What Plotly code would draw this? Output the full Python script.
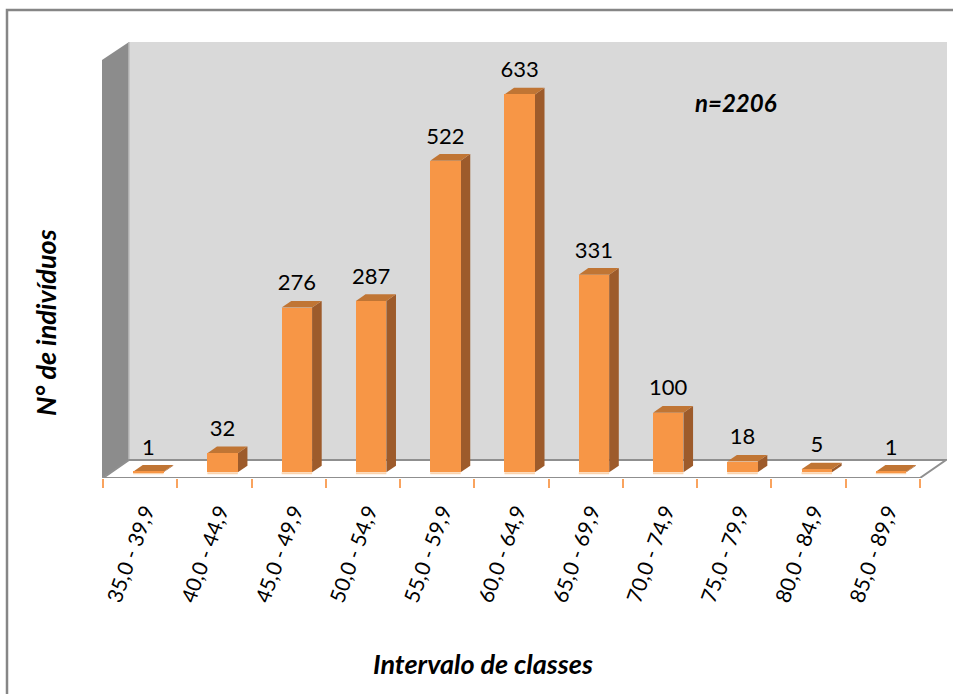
import numpy as np
import plotly.graph_objects as go

# ---- data -------------------------------------------------------------
categories = ["35,0 - 39,9", "40,0 - 44,9", "45,0 - 49,9", "50,0 - 54,9",
              "55,0 - 59,9", "60,0 - 64,9", "65,0 - 69,9", "70,0 - 74,9",
              "75,0 - 79,9", "80,0 - 84,9", "85,0 - 89,9"]
counts = [1, 32, 276, 287, 522, 633, 331, 100, 18, 5, 1]
sample_note = "n=2206"
x_title = "Intervalo de classes"
y_title = "N° de indivíduos"
axis_max = 700

# ---- geometry (pixels) ------------------------------------------------
W, H = 953, 694
PLOT_L, PLOT_R, PLOT_T, PLOT_B = 102, 947, 41, 478
AXIS_X0 = 103                 # pixel of first category boundary
PX_PER_CAT = 74.27
PX_PER_UNIT = 0.597
DEPTH_X_PX, DEPTH_Y_PX = 26, 18
LABEL_GAP_PX = 5

DXu = DEPTH_X_PX / PX_PER_CAT     # full floor depth in category units
DYu = DEPTH_Y_PX / PX_PER_UNIT    # full floor depth in value units
BAR_W = 0.41
Z0 = 0.315                        # depth fraction of the bar front faces
ZD = 0.37                         # bar depth as fraction of floor depth

x_lo = -0.5 - (AXIS_X0 - PLOT_L) / PX_PER_CAT
x_hi = -0.5 + (PLOT_R - AXIS_X0) / PX_PER_CAT
y_hi = (PLOT_B - PLOT_T) / PX_PER_UNIT


def px_paper(px, py):
    return (px - PLOT_L) / (PLOT_R - PLOT_L), (PLOT_B - py) / (PLOT_B - PLOT_T)


# ---- colours ----------------------------------------------------------
FRONT = "#f79646"
SIDE = "#9d5b2b"
TOP = "#c07534"
BOTTOM = "#fbd3ad"
BACK_WALL = "#d9d9d9"
SIDE_WALL = "#8c8c8c"
EDGE = "#8f8f8f"
TICK = "#f9a35e"
FONT = "Lato"

idx = np.arange(len(categories))
vals = np.array(counts, dtype=float)
base = Z0 * DYu
dxb = ZD * DXu
dyb = ZD * DYu
left = idx + Z0 * DXu - BAR_W / 2
right = left + BAR_W


def poly(pts):
    return "M " + " L ".join(f"{x:.5f},{y:.5f}" for x, y in pts) + " Z"


shapes = []
# back wall
shapes.append(dict(type="path", xref="x", yref="y", layer="below",
                   path=poly([(-0.5 + DXu, DYu), (x_hi, DYu),
                              (x_hi, DYu + axis_max), (-0.5 + DXu, DYu + axis_max)]),
                   fillcolor=BACK_WALL, line=dict(width=0)))
# left side wall
shapes.append(dict(type="path", xref="x", yref="y", layer="below",
                   path=poly([(x_lo, 0), (-0.5 + DXu, DYu),
                              (-0.5 + DXu, DYu + axis_max), (x_lo, axis_max)]),
                   fillcolor=SIDE_WALL, line=dict(width=0)))
shapes.append(dict(type="line", xref="x", yref="y", layer="below",
                   x0=-0.5 + DXu, x1=-0.5 + DXu, y0=DYu, y1=DYu + axis_max,
                   line=dict(color="#bdbdbd", width=1.5)))
# floor
shapes.append(dict(type="path", xref="x", yref="y", layer="below",
                   path=poly([(-0.5, 0), (10.5, 0), (10.5 + DXu, DYu), (-0.5 + DXu, DYu)]),
                   fillcolor="white", line=dict(color=EDGE, width=2)))
shapes.append(dict(type="line", xref="x", yref="y", layer="below",
                   x0=-0.5, x1=10.5, y0=-1.5, y1=-1.5,
                   line=dict(color=TICK, width=2)))

# bar side and top faces
for L, R, v in zip(left, right, vals):
    top = base + v
    shapes.append(dict(type="path", xref="x", yref="y", layer="below",
                       path=poly([(R, base), (R + dxb, base + dyb),
                                  (R + dxb, top + dyb), (R, top)]),
                       fillcolor=SIDE, line=dict(width=0)))
    shapes.append(dict(type="path", xref="x", yref="y", layer="below",
                       path=poly([(L, top), (R, top), (R + dxb, top + dyb), (L + dxb, top + dyb)]),
                       fillcolor=TOP, line=dict(width=0)))
    shapes.append(dict(type="line", xref="x", yref="y", layer="below",
                       x0=L, x1=R, y0=base - 1.5, y1=base - 1.5,
                       line=dict(color=BOTTOM, width=2)))

# outer chart frame
fx0, fy0 = px_paper(7, 10)
fx1, fy1 = px_paper(962, 704)
shapes.append(dict(type="rect", xref="paper", yref="paper",
                   x0=fx0, y0=fy1, x1=fx1, y1=fy0,
                   line=dict(color="#868686", width=2.5)))

fig = go.Figure()
fig.add_trace(go.Bar(
    x=idx, y=vals, base=base, width=BAR_W, offset=Z0 * DXu - BAR_W / 2,
    marker=dict(color=FRONT, line=dict(width=0)), hoverinfo="skip",
    showlegend=False,
))
fig.add_trace(go.Scatter(
    x=idx + Z0 * DXu, y=base + vals + dyb + LABEL_GAP_PX / PX_PER_UNIT, mode="text",
    text=[str(c) for c in counts], textposition="top center",
    textfont=dict(family=FONT, size=22, color="black"),
    cliponaxis=False, showlegend=False, hoverinfo="skip",
))

title_font = dict(family=FONT, size=27, color="black", weight="bold", style="italic")
annotations = []
ax, ay = px_paper(45, 322)
annotations.append(dict(xref="paper", yref="paper", x=ax, y=ay, text=y_title,
                        textangle=-90, showarrow=False,
                        xanchor="center", yanchor="middle", font=title_font))
ax, ay = px_paper(483, 663)
annotations.append(dict(xref="paper", yref="paper", x=ax, y=ay, text=x_title,
                        showarrow=False, xanchor="center", yanchor="middle",
                        font=title_font))
ax, ay = px_paper(736, 102)
annotations.append(dict(xref="paper", yref="paper", x=ax, y=ay, text=sample_note,
                        showarrow=False, xanchor="center", yanchor="middle",
                        font=dict(title_font, size=24)))

fig.update_layout(
    width=W, height=H,
    margin=dict(l=PLOT_L, r=W - PLOT_R, t=PLOT_T, b=H - PLOT_B, autoexpand=False),
    paper_bgcolor="white", plot_bgcolor="white",
    shapes=shapes, annotations=annotations,
    bargap=0,
    xaxis=dict(range=[x_lo, x_hi], showgrid=False, zeroline=False, showline=False,
               tickmode="array", tickvals=idx, ticktext=categories,
               tickangle=-70, ticks="", ticklabelstandoff=16, ticklabelshift=5,
               tickfont=dict(family=FONT, size=21, color="black"),
               minor=dict(tickmode="linear", tick0=-0.5, dtick=1, ticks="outside",
                          ticklen=9, tickwidth=2, tickcolor=TICK, showgrid=False),
               fixedrange=True),
    yaxis=dict(range=[0, y_hi], showgrid=False, zeroline=False, showline=False,
               showticklabels=False, ticks="", fixedrange=True),
)

fig.write_html("out.html")
